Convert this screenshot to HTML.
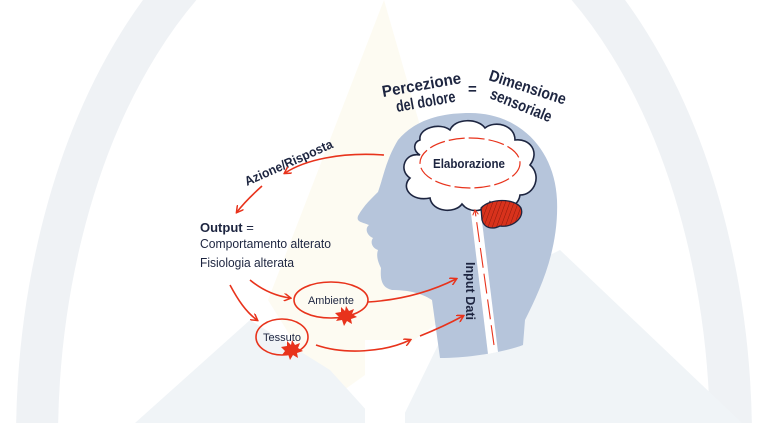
<!DOCTYPE html>
<html><head><meta charset="utf-8"><style>
html,body{margin:0;padding:0;background:#fff;width:768px;height:423px;overflow:hidden;}
svg{display:block;}
text{font-family:"Liberation Sans",sans-serif;}
</style></head><body>
<svg width="768" height="423" viewBox="0 0 768 423" xmlns="http://www.w3.org/2000/svg">
<defs>
<marker id="ah" markerWidth="8" markerHeight="8" refX="6" refY="4" orient="auto" markerUnits="userSpaceOnUse">
<path d="M0,0 L7,4 L0,8" fill="none" stroke="#e8331c" stroke-width="1.5"/></marker>
<marker id="as" markerWidth="6" markerHeight="6" refX="5" refY="3" orient="auto" markerUnits="userSpaceOnUse">
<path d="M0,0 L5,3 L0,6" fill="none" stroke="#e8331c" stroke-width="1"/></marker>
<pattern id="hatch" width="4" height="4" patternUnits="userSpaceOnUse" patternTransform="rotate(20)">
<rect width="4" height="4" fill="#d8321c"/><line x1="0" y1="0" x2="0" y2="4" stroke="#8a1a0c" stroke-width="1"/></pattern>
</defs>
<!-- background -->
<ellipse cx="384" cy="440" rx="347" ry="560" fill="none" stroke="#eff2f5" stroke-width="42"/>
<polygon points="384,0 268,300 330,400 470,300" fill="#fdfbf2"/>
<polygon points="135,423 250,320 330,370 378,423" fill="#f0f4f7"/>
<polygon points="460,300 560,250 742,423 400,423" fill="#f0f4f7"/>
<rect x="365" y="340" width="40" height="83" fill="#fff"/>
<!-- head -->
<path d="M470,113 C520,113 555,150 557,200 C559,250 540,290 525,320 L523,345 C505,352 470,358 440,358 L432,300 C420,292 405,290 392,290 C382,288 380,280 381,268 C378,262 376,256 378,250 C372,248 370,242 373,238 C366,235 365,228 369,225 C362,222 356,222 358,216 C364,205 372,198 378,192 C384,175 386,160 398,140 C415,120 440,113 470,113 Z" fill="#b6c5db"/>
<path d="M470,205 L480,205 L498,352 L488,354 Z" fill="#fff"/>
<!-- cloud -->
<path d="M420,140 C418,128 440,122 450,130 C455,118 478,118 485,128 C495,120 515,125 515,140 C530,138 540,152 530,165 C542,175 535,195 520,195 C518,210 498,212 490,202 C485,212 470,214 462,204 C455,214 432,212 430,198 C412,202 400,188 410,178 C398,170 405,152 420,155 C412,150 414,142 420,140 Z" fill="#fff" stroke="#1d2540" stroke-width="1.6"/>
<ellipse cx="470" cy="163" rx="50" ry="25" fill="none" stroke="#e8331c" stroke-width="1.2" stroke-dasharray="16 4"/>
<text x="433" y="168" font-size="13" font-weight="bold" fill="#1d2540" textLength="72" lengthAdjust="spacingAndGlyphs">Elaborazione</text>
<path d="M481,208 C490,198 515,198 521,208 C525,218 512,228 500,226 C492,230 484,228 482,220 Z" fill="url(#hatch)" stroke="#1d2540" stroke-width="1.3"/>
<path d="M494,345 L475,210" fill="none" stroke="#e8331c" stroke-width="1.1" stroke-dasharray="20 6" marker-end="url(#as)"/>
<!-- titles -->
<g font-weight="bold" fill="#1d2540" font-size="16">
<text transform="translate(383,97) rotate(-10)" textLength="80" lengthAdjust="spacingAndGlyphs">Percezione</text>
<text transform="translate(397,112) rotate(-10)" textLength="60" lengthAdjust="spacingAndGlyphs">del dolore</text>
<text x="468" y="94" font-size="15">=</text>
<text transform="translate(488,80) rotate(18)" textLength="80" lengthAdjust="spacingAndGlyphs">Dimensione</text>
<text transform="translate(489,98) rotate(22)" textLength="65" lengthAdjust="spacingAndGlyphs">sensoriale</text>
<text transform="translate(247,186) rotate(-24)" font-size="13" textLength="95" lengthAdjust="spacingAndGlyphs">Azione/Risposta</text>
<text transform="translate(466,262) rotate(90)" font-size="13" textLength="58" lengthAdjust="spacingAndGlyphs">Input Dati</text>
</g>
<g fill="#1d2540" font-size="13">
<text x="200" y="232"><tspan font-weight="bold">Output</tspan> =</text>
<text x="200" y="248" textLength="131" lengthAdjust="spacingAndGlyphs">Comportamento alterato</text>
<text x="200" y="267" textLength="94" lengthAdjust="spacingAndGlyphs">Fisiologia alterata</text>
</g>
<!-- arrows -->
<g fill="none" stroke="#e8331c" stroke-width="1.6">
<path d="M384,155 C340,152 305,160 285,173" marker-end="url(#ah)"/>
<path d="M262,186 C252,195 243,204 237,212" marker-end="url(#ah)"/>
<path d="M230,285 C238,300 246,312 257,320" marker-end="url(#ah)"/>
<path d="M250,280 C262,290 276,296 290,298" marker-end="url(#ah)"/>
<path d="M368,302 C400,300 430,292 456,279" marker-end="url(#ah)"/>
<path d="M316,345 C345,355 385,352 410,340" marker-end="url(#ah)"/>
<path d="M420,336 C435,330 452,322 463,316" marker-end="url(#ah)"/>
<ellipse cx="331" cy="300" rx="37" ry="18"/>
<ellipse cx="282" cy="337" rx="26" ry="18"/>
</g>
<g fill="#e8331c">
<polygon points="346,306 349,311 354,309 352,314 357,317 351,319 352,324 347,321 344,326 342,320 336,321 339,317 335,313 341,312 341,307 345,311"/>
<polygon points="292,340 295,345 300,343 298,348 303,351 297,353 298,358 293,355 290,360 288,354 282,355 285,351 281,347 287,346 287,341 291,345"/>
</g>
<text x="331" y="304" font-size="11" fill="#1d2540" text-anchor="middle" textLength="46" lengthAdjust="spacingAndGlyphs">Ambiente</text>
<text x="282" y="341" font-size="11" fill="#1d2540" text-anchor="middle" textLength="38" lengthAdjust="spacingAndGlyphs">Tessuto</text>
</svg>
</body></html>
